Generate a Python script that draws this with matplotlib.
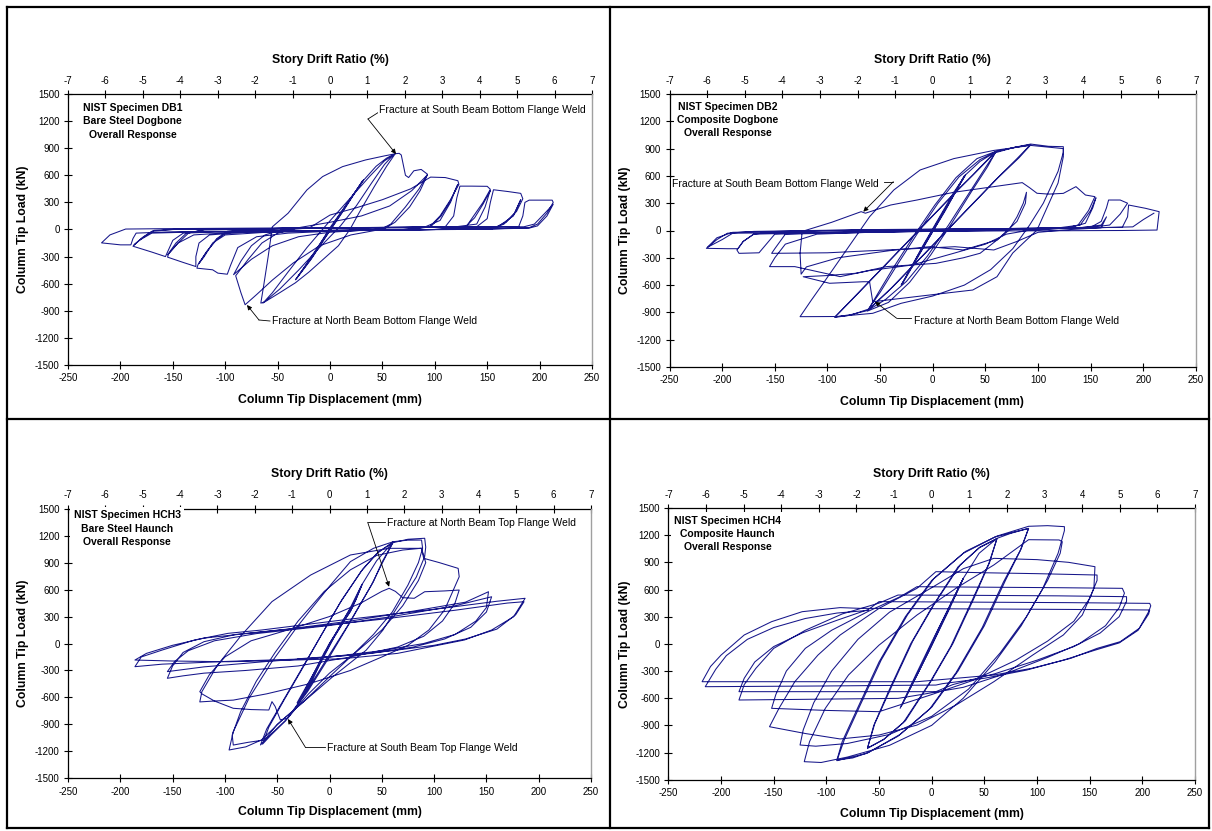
import matplotlib
matplotlib.use('Agg')
import matplotlib.pyplot as plt
from matplotlib.lines import Line2D

plt.rcParams['font.family'] = ['Liberation Sans', 'DejaVu Sans']
plt.rcParams['axes.unicode_minus'] = False

# ---------------- data (column tip displacement mm, column tip load kN) ----------------
X_TICKS = list(range(-250, 251, 50))
Y_TICKS = list(range(-1500, 1501, 300))
DRIFT_TICKS = list(range(-7, 8))

TITLES = ["NIST Specimen DB1\nBare Steel Dogbone\nOverall Response",
          "NIST Specimen DB2\nComposite Dogbone\nOverall Response",
          "NIST Specimen HCH3\nBare Steel Haunch\nOverall Response",
          "NIST Specimen HCH4\nComposite Haunch\nOverall Response"]

DB1 = [
 (0,0),(16,280),(32,549),(17,300),(0,20),(-17,-300),(-33,-557),(-16,-290),(0,-10),
 (15,255),(31,538),(13,210),(-4,-80),(-18,-330),(-32,-545),(-12,-200),(4,70),(20,350),(32,545),
 (44,700),(54,790),(61,832),
 (52,720),(40,520),(25,260),(10,40),(-10,-200),(-30,-450),(-48,-660),(-64,-815),
 (-55,-700),(-40,-470),(-22,-200),(-2,70),(18,330),(38,590),(52,760),(62,835),
 (54,700),(42,470),(28,190),(19,0),(8,-180),(-7,-335),(-20,-470),(-33,-590),(-48,-700),(-62,-800),(-66,-815),
 (-63,-600),(-59,-300),(-55,30),(-40,180),(-22,438),(-7,586),(12,696),(34,770),(52,815),(63,840),
 (66,843),(68,825),(72,600),(75,575),(80,650),(87,665),(93,612),
 (85,450),(72,250),(58,60),(48,0),(20,-60),(-10,-180),(-35,-370),(-55,-560),(-70,-720),(-81,-833),
 (-85,-700),(-88,-586),(-90,-512),
 (-78,-330),(-65,-150),(-50,-40),(-30,20),(0,80),(30,150),(57,261),(78,430),(93,605),
 (86,430),(76,250),(62,80),(52,10),(30,-10),(0,-30),(-30,-80),(-55,-180),(-75,-330),(-88,-460),(-92,-500),
 (-85,-350),(-75,-180),(-62,-60),(-45,0),(-20,15),(0,160),(25,240),(50,330),(77,450),(93,560),(96,580),(110,575),(122,540),(123,500),
 (115,330),(105,150),(95,30),(70,0),(30,-10),(0,-20),(-40,-40),(-70,-80),(-88,-200),(-95,-400),(-98,-495),(-107,-483),(-112,-446),(-127,-428),(-126,-390),
 (-118,-250),(-108,-100),(-98,-20),(-70,5),(0,15),(60,20),(90,25),(105,100),(115,300),(120,450),(122,500),
 (115,320),(106,150),(96,30),(80,5),(0,-15),(-60,-30),(-100,-60),(-112,-150),(-120,-300),(-125,-375),
 (-118,-250),(-108,-110),(-98,-25),(-60,5),(0,15),(80,22),(110,30),(118,150),(121,350),(124,480),(135,480),(150,478),(153,445),
 (146,300),(137,150),(129,15),(100,0),(0,-15),(-80,-30),(-115,-60),(-125,-150),(-128,-300),(-128,-410),(-140,-365),(-155,-306),(-154,-270),
 (-145,-150),(-135,-40),(-120,0),(-60,10),(0,20),(80,25),(120,30),(140,60),(148,250),(152,400),(153,430),
 (146,280),(138,130),(128,15),(100,0),(0,-15),(-90,-30),(-130,-60),(-145,-150),(-152,-240),(-155,-280),
 (-147,-150),(-137,-40),(-120,-5),(-60,10),(0,20),(100,25),(140,30),(150,120),(153,300),(156,440),(170,420),(182,400),(184,340),
 (178,200),(168,80),(155,10),(120,0),(0,-10),(-100,-25),(-140,-40),(-150,-120),(-155,-250),(-157,-300),(-170,-250),(-188,-185),
 (-180,-100),(-170,-20),(-150,0),(-60,10),(0,20),(100,25),(160,30),(175,150),(180,280),(182,330),
 (176,180),(166,60),(155,10),(100,0),(0,-10),(-120,-25),(-170,-40),(-182,-120),(-187,-170),
 (-178,-80),(-168,-10),(-150,0),(-50,10),(0,20),(120,25),(180,30),(184,150),(186,300),(190,325),(200,325),(212,325),(213,300),
 (207,180),(198,60),(190,20),(150,5),(0,-10),(-150,-25),(-185,-40),(-188,-100),(-190,-170),(-200,-170),(-218,-148),
 (-210,-60),(-195,5),(-150,10),(0,20),(120,25),(185,30),(195,60),(205,180),(213,280),
 (207,150),(198,40),(190,15),(150,5),(100,0),
]

DB2 = [
 (0,0),(15,300),(31,610),(15,290),(0,-10),(-15,-300),(-30,-600),(-15,-290),(0,10),
 (16,320),(30,600),(12,220),(-3,-70),(-17,-350),(-29,-590),(-10,-180),(5,120),(20,420),(31,610),
 (45,760),(60,866),
 (50,690),(35,420),(15,60),(-5,-280),(-25,-560),(-45,-760),(-62,-880),
 (-50,-680),(-35,-400),(-15,-40),(5,300),(25,590),(45,780),(60,866),
 (52,700),(38,450),(18,80),(-2,-270),(-22,-570),(-42,-790),(-62,-885),
 (-52,-690),(-38,-420),(-18,-60),(2,280),(22,580),(42,790),(60,870),
 (75,905),(93,945),
 (80,790),(60,560),(40,320),(20,80),(0,-160),(-20,-400),(-40,-640),(-62,-880),(-78,-925),(-93,-950),
 (-80,-800),(-60,-560),(-40,-320),(-20,-80),(0,160),(20,400),(40,630),(60,866),(78,915),(93,940),
 (82,800),(62,580),(42,340),(22,100),(2,-140),(-18,-380),(-38,-620),(-60,-860),(-78,-930),(-93,-955),
 (-82,-820),(-62,-580),(-42,-340),(-22,-100),(-2,140),(18,380),(38,610),(58,850),(78,915),(93,950),
 (110,925),(124,921),
 (124,860),(119,650),(105,300),(92,60),(76,-200),(55,-430),(30,-600),(0,-720),(-30,-800),(-57,-910),(-90,-945),(-126,-947),
 (-115,-760),(-104,-580),(-82,-214),(-60,151),(-37,445),(-12,665),(20,790),(58,880),(93,935),(124,900),
 (124,811),(119,522),(99,5),(76,-247),(61,-508),(38,-654),(-3,-709),(-40,-760),(-57,-783),
 (-60,-563),(-66,-563),(-98,-580),(-123,-508),
 (-100,-495),(-73,-470),(-44,-397),(3,-361),(29,-300),(45,-250),(61,-105),(72,0),(80,150),(86,300),(89,420),
 (88,300),(80,100),(61,-105),(29,-214),(-3,-178),(-40,-220),(-90,-300),(-120,-400),(-125,-480),
 (-126,-250),(-124,-10),(-96,90),(-68,207),
 (-64,190),(-40,280),(-15,335),(20,420),(58,482),(85,526),(92,470),(99,409),(110,400),(124,408),(136,482),(145,390),(154,372),
 (148,220),(138,60),(128,30),(90,20),(20,0),(-60,-20),(-110,-40),(-140,-150),(-150,-300),(-155,-397),
 (-131,-397),(-88,-507),(-60,-440),(-20,-380),(20,-250),(50,-150),(70,-40),(90,0),(130,30),(145,80),(152,250),(155,360),
 (150,220),(140,60),(120,30),(50,0),(-60,-20),(-140,-40),(-150,-200),(-153,-251),
 (-100,-245),(21,-178),(58,-214),(80,-120),(100,-20),(130,10),(160,30),(165,150),
 (160,60),(140,30),(60,5),(-60,-15),(-150,-40),(-165,-245),(-184,-251),(-186,-214),
 (-180,-120),(-170,-40),(-150,-15),(-60,5),(60,20),(150,35),(160,100),(165,250),(167,335),(178,335),(185,300),
 (178,180),(168,60),(150,35),(60,10),(-60,-10),(-170,-40),(-180,-120),(-185,-200),
 (-195,-200),(-215,-196),
 (-205,-100),(-195,-30),(-170,-10),(-60,10),(60,20),(180,35),(185,150),(186,280),(202,244),(215,207),
 (213,5),(180,0),(60,-5),(-60,-15),(-190,-30),(-200,-100),(-214,-185),
 (-205,-80),(-190,-20),(-100,0),(0,10),(120,20),(190,40),(200,120),(210,190),
]

HCH3 = [
 (0,0),(9,169),(20,354),(31,658),(20,400),(8,150),(-1,-17),(-17,-424),(-30,-665),(-18,-400),(-5,-100),
 (9,160),(22,400),(31,650),(18,330),(4,60),(-10,-250),(-20,-470),(-31,-660),(-15,-330),(0,-20),(12,240),(25,480),(31,655),
 (45,920),(61,1133),
 (50,900),(42,688),(20,243),(1,-128),(-21,-536),(-40,-832),(-55,-1000),(-66,-1129),
 (-60,-950),(-45,-650),(-30,-350),(-10,50),(10,450),(30,800),(45,1000),(61,1130),
 (52,930),(40,650),(18,210),(-2,-160),(-24,-570),(-42,-860),(-56,-1020),(-64,-1120),
 (-58,-930),(-43,-620),(-27,-300),(-8,90),(12,490),(32,830),(47,1020),(60,1120),
 (75,1160),(91,1171),
 (92,1073),(91,969),(83,740),(67,445),(51,148),(35,-75),(19,-223),(3,-371),(-20,-600),(-45,-850),(-65,-1073),(-80,-1150),(-96,-1185),
 (-92,-981),(-77,-610),(-55,-202),(-32,169),(-17,391),(1,651),(20,911),(42,1059),(61,1133),(75,1150),(88,1151),
 (89,1060),(85,900),(75,650),(60,350),(42,100),(20,-150),(0,-370),(-25,-650),(-50,-900),(-62,-1073),(-78,-1100),(-92,-1130),
 (-93,-1018),(-85,-760),(-70,-420),(-52,-100),(-30,250),(-5,580),(20,820),(45,980),(70,1040),(88,1060),
 (90,948),(105,900),(123,836),
 (124,743),(110,373),(95,150),(75,-20),(50,-150),(20,-300),(-20,-450),(-60,-560),(-92,-630),(-110,-640),(-124,-650),(-122,-536),
 (-107,-239),(-84,95),(-55,466),(-18,762),(20,985),(57,1059),(88,1059),
 (92,900),(85,700),(70,420),(50,150),(25,-100),(0,-330),(-20,-560),(-32,-720),(-40,-832),(-47,-850),(-52,-700),(-55,-647),
 (-58,-740),(-75,-735),(-92,-721),(-110,-640),(-122,-560),(-124,-536),
 (-115,-350),(-100,-150),(-75,30),(-40,150),(0,300),(30,450),(50,580),(57,614),(63,580),(70,510),(81,503),(91,576),(110,585),(124,595),
 (120,450),(108,250),(90,80),(65,-40),(20,-150),(-30,-250),(-80,-300),(-120,-330),(-140,-360),(-155,-387),
 (-150,-250),(-140,-100),(-120,20),(-90,100),(-40,160),(20,250),(80,360),(130,460),(152,576),
 (150,400),(140,250),(120,100),(90,0),(50,-80),(0,-150),(-60,-200),(-120,-260),(-155,-313),
 (-148,-200),(-135,-80),(-110,30),(-70,110),(0,200),(60,300),(120,420),(155,520),
 (150,350),(135,180),(110,50),(80,-40),(40,-110),(-20,-170),(-100,-200),(-160,-230),(-186,-258),
 (-180,-150),(-160,-73),(-129,39),(-97,113),(-65,150),(12,261),(100,380),(160,470),(187,503),
 (176,298),(155,150),(129,39),(97,-36),(65,-110),(12,-170),(-97,-203),(-150,-195),(-186,-184),
 (-175,-110),(-150,-20),(-120,60),(-80,110),(-30,170),(50,270),(120,370),(170,450),(186,465),
 (178,320),(160,160),(130,50),(100,-20),(60,-80),(20,-130),(-30,-170),
]

HCH4 = [
 (0,0),(15,360),(30,723),(15,340),(0,-20),(-15,-370),(-30,-712),(-15,-340),(0,20),
 (15,370),(29,700),(12,280),(-3,-90),(-18,-430),(-29,-690),(-12,-300),(3,80),(18,440),(30,723),
 (45,1000),(62,1165),
 (55,900),(40,500),(20,0),(0,-400),(-25,-850),(-45,-1050),(-61,-1154),
 (-55,-900),(-40,-500),(-20,0),(0,400),(25,850),(45,1060),(62,1160),
 (54,880),(38,470),(18,-30),(-2,-430),(-27,-870),(-46,-1060),(-61,-1150),
 (-54,-880),(-38,-470),(-18,30),(2,430),(27,870),(46,1070),(62,1165),
 (75,1220),(92,1275),
 (85,1050),(70,700),(50,200),(25,-300),(0,-700),(-30,-1000),(-60,-1200),(-75,-1260),(-90,-1283),
 (-85,-1080),(-70,-700),(-50,-200),(-25,300),(0,700),(30,1000),(60,1180),(92,1275),
 (84,1030),(68,680),(48,180),(23,-320),(-2,-720),(-32,-1020),(-62,-1210),(-90,-1290),
 (-83,-1060),(-68,-680),(-48,-180),(-23,320),(2,720),(32,1020),(62,1190),(92,1298),
 (110,1305),(126,1294),
 (126,1250),(120,1000),(105,600),(85,200),(60,-200),(30,-600),(0,-900),(-40,-1120),(-80,-1250),(-105,-1310),(-121,-1301),
 (-116,-1080),(-101,-712),(-79,-344),(-50,-14),(-14,318),(23,613),(59,871),(92,1150),(121,1147),(124,1128),
 (122,1000),(110,700),(90,300),(65,-100),(35,-500),(0,-800),(-40,-1000),(-80,-1100),(-110,-1130),(-125,-1117),
 (-122,-950),(-112,-650),(-95,-300),(-70,50),(-40,350),(0,620),(30,830),(59,944),(100,930),(130,900),(155,852),
 (154,613),(143,318),(125,98),(96,-123),(59,-418),(23,-676),(-14,-897),(-50,-1007),(-87,-1050),(-120,-990),(-154,-915),
 (-145,-712),(-130,-418),(-108,-124),(-87,97),(-50,392),(-14,613),(4,797),(50,785),(100,775),(157,760),
 (157,700),(150,500),(135,250),(110,30),(80,-180),(40,-400),(0,-560),(-50,-749),(-100,-735),(-152,-712),
 (-148,-560),(-138,-300),(-120,-50),(-95,150),(-60,360),(-30,520),(-14,631),(60,625),(120,620),(181,613),
 (183,560),(178,400),(165,200),(140,0),(110,-150),(70,-330),(30,-480),(-10,-560),(-32,-602),(-100,-610),(-183,-620),
 (-178,-450),(-167,-271),(-150,-50),(-120,150),(-85,330),(-50,450),(-32,539),(50,535),(120,530),(185,521),
 (185,470),(178,300),(160,120),(135,-30),(100,-180),(60,-330),(20,-450),(4,-528),(-80,-528),(-183,-528),
 (-178,-380),(-168,-200),(-150,-30),(-123,120),(-90,260),(-60,380),(-50,466),(50,460),(130,455),(207,447),
 (208,420),(206,355),(197,171),(179,24),(157,-50),(132,-160),(95,-270),(59,-344),(23,-381),(-14,-418),(-100,-418),(-218,-418),
 (-210,-250),(-200,-124),(-178,98),(-152,245),(-123,355),(-87,400),(-68,392),(50,385),(130,380),(207,374),
 (206,330),(196,150),(178,10),(155,-70),(125,-180),(90,-290),(50,-380),(10,-440),(4,-455),(-100,-465),(-215,-473),
 (-205,-280),(-195,-130),(-175,50),(-150,180),(-120,280),(-90,340),(-60,370),
]

CURVES = [DB1, DB2, HCH3, HCH4]

# ---------------- layout (pixels of a 1212 x 831 canvas) ----------------
W, H = 1212, 831
AX_PX = [(68, 94, 592, 365), (669.5, 94, 1196, 367), (68, 508.7, 591, 778.3), (668.4, 508, 1195, 779.7)]
TOP_LBL = [(330, 60), (932, 60), (329.5, 474), (931.7, 474)]
BOT_LBL = [(330, 400), (932, 401.7), (329.5, 812.3), (931.7, 814.3)]
Y_LBL = [(23.3, 229.5), (624.6, 230.5), (23.3, 643.5), (624.6, 644)]
TITLE_POS = [(132.7, 121.5), (728, 120), (127, 528.5), (727.7, 533.7)]
# annotations: (panel, text, text-left px, leader px points ending at arrow tip)
ANNOT = [
 (0, "Fracture at South Beam Bottom Flange Weld", (379, 110), [(379, 112), (368, 119), (396, 154)]),
 (0, "Fracture at North Beam Bottom Flange Weld", (272, 321), [(270, 321), (259, 320), (247, 305)]),
 (1, "Fracture at South Beam Bottom Flange Weld", (672, 184.3), [(884, 181.7), (893.3, 181.7), (863.3, 211.7)]),
 (1, "Fracture at North Beam Bottom Flange Weld", (914, 320.7), [(911, 318.3), (896.7, 318.3), (875, 301.7)]),
 (2, "Fracture at North Beam Top Flange Weld", (387.2, 523.3), [(385.2, 522.3), (367.7, 522.3), (389.1, 586.7)]),
 (2, "Fracture at South Beam Top Flange Weld", (326.9, 748.3), [(324.9, 747.3), (305.4, 747.3), (288, 719)]),
]

LINE_COLOR = '#16168a'

def fx(x):
    return x / W

def fy(y):
    return 1 - y / H

def px_to_data(i, px, py):
    l, t, r, b = AX_PX[i]
    return (-250 + (px - l) / (r - l) * 500, 1500 - (py - t) / (b - t) * 3000)

fig = plt.figure(figsize=(W / 100, H / 100), dpi=100)

mm_to_drift = lambda x: x * 7.0 / 250.0
drift_to_mm = lambda d: d * 250.0 / 7.0

axes = []
for i, (l, t, r, b) in enumerate(AX_PX):
    ax = fig.add_axes([fx(l), fy(b), (r - l) / W, (b - t) / H])
    ax.set_xlim(-250, 250)
    ax.set_ylim(-1500, 1500)
    ax.set_xticks(X_TICKS)
    ax.set_yticks(Y_TICKS)
    ax.tick_params(direction='inout', length=6, width=0.8, labelsize=7, pad=3, colors='black')
    for s in ('left', 'bottom'):
        ax.spines[s].set_linewidth(0.9)
    ax.spines['top'].set_visible(False)
    ax.spines['right'].set_color('#a0a0a0')
    ax.spines['right'].set_linewidth(1.0)
    sec = ax.secondary_xaxis('top', functions=(mm_to_drift, drift_to_mm))
    sec.set_xticks(DRIFT_TICKS)
    sec.tick_params(direction='inout', length=6, width=0.8, labelsize=7, pad=3)
    sec.spines['top'].set_linewidth(0.9)
    xs = [p[0] for p in CURVES[i]]
    ys = [p[1] for p in CURVES[i]]
    ax.plot(xs, ys, color=LINE_COLOR, lw=0.75, solid_joinstyle='round')
    axes.append(ax)

    fig.text(fx(TOP_LBL[i][0]), fy(TOP_LBL[i][1]), "Story Drift Ratio (%)", ha='center', va='center',
             fontsize=8.8, fontweight='bold')
    fig.text(fx(BOT_LBL[i][0]), fy(BOT_LBL[i][1]), "Column Tip Displacement (mm)", ha='center', va='center',
             fontsize=8.8, fontweight='bold')
    fig.text(fx(Y_LBL[i][0]), fy(Y_LBL[i][1]), "Column Tip Load (kN)", ha='center', va='center',
             fontsize=8.8, fontweight='bold', rotation=90)
    fig.text(fx(TITLE_POS[i][0]), fy(TITLE_POS[i][1]), TITLES[i], ha='center', va='center',
             fontsize=7.5, fontweight='bold', linespacing=1.38,
             bbox=dict(facecolor='white', edgecolor='none', pad=2.6), zorder=5)

for (i, txt, (tx, ty), pts) in ANNOT:
    ax = axes[i]
    fig.text(fx(tx), fy(ty), txt, ha='left', va='center', fontsize=7.5,
             bbox=dict(facecolor='white', edgecolor='none', pad=0.8), zorder=5)
    dpts = [px_to_data(i, px, py) for px, py in pts]
    ax.plot([p[0] for p in dpts[:-1]], [p[1] for p in dpts[:-1]], color='black', lw=0.6, clip_on=False, zorder=6)
    ax.annotate('', xy=dpts[-1], xytext=dpts[-2],
                arrowprops=dict(arrowstyle='-|>', color='black', lw=0.6, mutation_scale=7,
                                shrinkA=0, shrinkB=0), annotation_clip=False, zorder=6)

# panel borders
BORDER_H = [(7, 1209, 7), (7, 1209, 419), (7, 1209, 828)]
BORDER_V = [(7, 7, 828), (609.5, 7, 828), (1209, 7, 828)]
for x0, x1, y in BORDER_H:
    fig.add_artist(Line2D([fx(x0), fx(x1)], [fy(y), fy(y)], color='black', lw=1.6, zorder=10))
for x, y0, y1 in BORDER_V:
    fig.add_artist(Line2D([fx(x), fx(x)], [fy(y0), fy(y1)], color='black', lw=1.6, zorder=10))

fig.savefig('out.png', dpi=100, facecolor='white')
